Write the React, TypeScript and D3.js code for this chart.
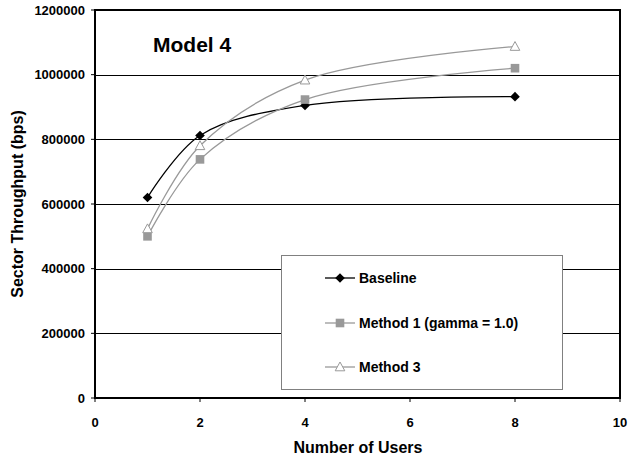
import * as d3 from "d3";

const users = [1, 2, 4, 8];
const baseline = [620000, 812000, 905000, 932000];
const method1 = [500000, 738000, 923000, 1020000];
const method3 = [523000, 780000, 983000, 1087000];
const seriesNames = ["Baseline", "Method 1 (gamma = 1.0)", "Method 3"];
const xTicks = [0, 2, 4, 6, 8, 10];
const yTicks = [0, 200000, 400000, 600000, 800000, 1000000, 1200000];

const W = 628;
const H = 462;
const left = 95, right = 620, top = 10, bottom = 398;
const font = "'Liberation Sans', Arial, sans-serif";

const x = d3.scaleLinear().domain([0, 10]).range([left, right]);
const y = d3.scaleLinear().domain([0, 1200000]).range([bottom, top]);

const line = d3.line<number>()
  .x((d, i) => x(users[i]))
  .y(d => y(d))
  .curve(d3.curveCatmullRom.alpha(0.5));

const gray = "#999999";

function Marker({ kind, cx, cy }) {
  if (kind === 0) {
    const r = 4.8;
    return <path d={`M${cx},${cy - r}L${cx + r},${cy}L${cx},${cy + r}L${cx - r},${cy}Z`} fill="#000" />;
  }
  if (kind === 1) {
    return <rect x={cx - 4.3} y={cy - 4.3} width={8.6} height={8.6} fill={gray} />;
  }
  return <path d={`M${cx},${cy - 5}L${cx + 4.8},${cy + 3.8}L${cx - 4.8},${cy + 3.8}Z`} fill="#fff" stroke={gray} strokeWidth={1} />;
}

export default function App() {
  const series = [baseline, method1, method3];
  const colors = ["#000", gray, gray];
  const legendX = 281, legendY = 255, legendW = 281, legendH = 134;
  const rows = [278, 323, 367];

  return (
    <svg width={W} height={H} style={{ position: "absolute", left: 0, top: 0, background: "#fff" }}
      fontFamily={font} fontWeight="bold">
      {yTicks.slice(1, -1).map(t => (
        <line key={t} x1={left} x2={right} y1={Math.round(y(t)) + 0.5} y2={Math.round(y(t)) + 0.5} stroke="#000" strokeWidth={1} />
      ))}
      <rect x={left} y={top} width={right - left} height={bottom - top} fill="none" stroke="#000" strokeWidth={2} />
      {yTicks.map(t => (
        <g key={t}>
          <line x1={left - 4} x2={left} y1={y(t)} y2={y(t)} stroke="#000" />
          <text x={85} y={y(t)} dy="0.35em" textAnchor="end" fontSize={13}>{t}</text>
        </g>
      ))}
      {xTicks.map(t => (
        <g key={t}>
          <line x1={x(t)} x2={x(t)} y1={bottom} y2={bottom + 4} stroke="#000" />
          <text x={x(t)} y={427} textAnchor="middle" fontSize={13}>{t}</text>
        </g>
      ))}
      <text x={358} y={453} textAnchor="middle" fontSize={16}>Number of Users</text>
      <text transform={`translate(23,${(top + bottom) / 2}) rotate(-90)`} textAnchor="middle" fontSize={16}>Sector Throughput (bps)</text>
      <text x={153} y={52} fontSize={21}>Model 4</text>

      {series.map((s, k) => (
        <g key={k}>
          <path d={line(s)} fill="none" stroke={colors[k]} strokeWidth={1.3} />
          {s.map((v, i) => <Marker key={i} kind={k} cx={x(users[i])} cy={y(v)} />)}
        </g>
      ))}

      <rect x={legendX + 0.5} y={legendY + 0.5} width={legendW} height={legendH} fill="#fff" stroke="#808080" strokeWidth={1} />
      {seriesNames.map((n, k) => (
        <g key={n}>
          <line x1={325} x2={355} y1={rows[k]} y2={rows[k]} stroke={colors[k]} strokeWidth={1.3} />
          <Marker kind={k} cx={340} cy={rows[k]} />
          <text x={359} y={rows[k]} dy="0.35em" fontSize={14}>{n}</text>
        </g>
      ))}
    </svg>
  );
}
